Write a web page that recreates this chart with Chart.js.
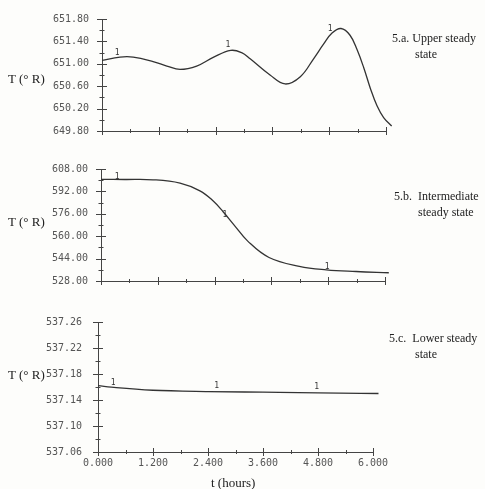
<!DOCTYPE html>
<html lang="en">
<head>
<meta charset="UTF-8">
<title>Steady state temperature response</title>
<script src="https://cdn.jsdelivr.net/npm/chart.js@4.4.2/dist/chart.umd.min.js"></script>
<style>
    body { margin: 0; background: #fdfdfb; }
    #wrap { position: relative; width: 485px; height: 489px; overflow: hidden;
            font-family: "Liberation Serif", "DejaVu Serif", serif; color: #222; }
    canvas { position: absolute; left: 0; }
    .note { position: absolute; font-size: 12px; line-height: 14px; white-space: nowrap; }
    .tlab { position: absolute; left: 8px; font-size: 13px; line-height: 16px; white-space: nowrap; }
</style>
</head>
<body>
<div id="wrap">
    <canvas id="chartA" width="395" height="150" style="top:0px"></canvas>
    <canvas id="chartB" width="395" height="150" style="top:150px"></canvas>
    <canvas id="chartC" width="395" height="189" style="top:300px"></canvas>

    <div class="tlab" style="top:71px">T (° R)</div>
    <div class="tlab" style="top:214px">T (° R)</div>
    <div class="tlab" style="top:367px">T (° R)</div>

    <div class="note" style="left:392px; top:31px">5.a. Upper steady</div>
    <div class="note" style="left:415px; top:47px">state</div>
    <div class="note" style="left:394px; top:189px">5.b.&nbsp; Intermediate</div>
    <div class="note" style="left:418px; top:205px">steady state</div>
    <div class="note" style="left:389px; top:331px">5.c.&nbsp; Lower steady</div>
    <div class="note" style="left:415px; top:347px">state</div>

    <div class="note" style="left:211px; top:476px; font-size:13px">t (hours)</div>
</div>
<script>
    // 5.a upper steady state
    const timeA = [0, 0.38, 0.66, 1.08, 1.37, 1.65, 2.0, 2.36, 2.72, 2.95, 3.13, 3.55, 3.87, 4.19, 4.47, 4.68, 4.86, 5.05, 5.24, 5.39, 5.53, 5.67, 5.81, 5.95, 6.12];
    const tempA = [651.06, 651.12, 651.12, 651.04, 650.96, 650.90, 650.96, 651.12, 651.24, 651.20, 651.09, 650.80, 650.64, 650.77, 651.09, 651.35, 651.55, 651.63, 651.51, 651.25, 650.93, 650.56, 650.25, 650.04, 649.89];
    const markTA = [0.32, 2.66, 4.82];
    const markYA = [651.20, 651.33, 651.62];

    // 5.b intermediate steady state
    const timeB = [0, 0.5, 1.1, 1.67, 2.09, 2.36, 2.58, 2.8, 3.1, 3.55, 4.19, 4.76, 5.39, 6.08];
    const tempB = [600.6, 600.5, 600.3, 597.9, 592.4, 585.5, 577.5, 568.5, 556.5, 544.8, 538.5, 536.0, 534.8, 533.9];
    const markTB = [0.34, 2.62, 4.78];
    const markYB = [602.3, 575.2, 538.1];

    // 5.c lower steady state
    const timeC = [0, 0.4, 1.2, 2.4, 3.6, 4.8, 6.12];
    const tempC = [537.162, 537.159, 537.155, 537.153, 537.152, 537.151, 537.150];
    const markTC = [0.33, 2.59, 4.77];
    const markYC = [537.167, 537.162, 537.160];

    const tickFont = { family: 'DejaVu Sans Mono', size: 10 };

    // ticks crossing the axes plus the "1" curve labels
    const crossTicks = {
        id: 'crossTicks',
        afterDraw(chart, args, o) {
            const ctx = chart.ctx, xs = chart.scales.x, ys = chart.scales.y;
            const area = chart.chartArea;
            ctx.save();
            ctx.strokeStyle = '#444';
            ctx.lineWidth = 1;
            ctx.beginPath();
            let n = Math.round((xs.max - xs.min) / o.xMinor);
            for (let i = 0; i <= n; i++) {
                let px = Math.round(xs.getPixelForValue(xs.min + i * o.xMinor)) + 0.5;
                let len = i % 2 === 0 ? 4 : 2;
                ctx.moveTo(px, area.bottom - len);
                ctx.lineTo(px, area.bottom + len);
            }
            n = Math.round((ys.max - ys.min) / o.yMinor);
            for (let i = 0; i <= n; i++) {
                let py = Math.round(ys.getPixelForValue(ys.min + i * o.yMinor)) + 0.5;
                let len = i % 2 === 0 ? 5 : 2.5;
                ctx.moveTo(area.left - len, py);
                ctx.lineTo(area.left + len, py);
            }
            ctx.stroke();
            ctx.fillStyle = '#333';
            ctx.font = '8px DejaVu Sans Mono';
            ctx.textAlign = 'center';
            ctx.textBaseline = 'middle';
            o.markT.forEach((t, i) => {
                ctx.fillText('1', xs.getPixelForValue(t), ys.getPixelForValue(o.markY[i]));
            });
            ctx.restore();
        }
    };

    function makePanel(id, times, temps, cfg) {
        return new Chart(document.getElementById(id), {
            type: 'line',
            data: {
                datasets: [{
                    data: times.map((t, i) => ({ x: t, y: temps[i] })),
                    borderColor: '#333',
                    borderWidth: 1.3,
                    pointRadius: 0,
                    tension: 0.4,
                    cubicInterpolationMode: cfg.mode,
                    clip: false
                }]
            },
            options: {
                responsive: false,
                animation: false,
                layout: { padding: { left: 0, top: cfg.top, right: cfg.right, bottom: 0 } },
                plugins: {
                    legend: { display: false },
                    tooltip: { enabled: false },
                    crossTicks: { xMinor: 0.6, yMinor: cfg.yStep / 2, markT: cfg.markT, markY: cfg.markY }
                },
                scales: {
                    x: {
                        type: 'linear', min: 0, max: 6,
                        afterFit: s => { s.height = cfg.xHeight; },
                        grid: { display: false, drawTicks: false },
                        border: { display: true, color: '#444', width: 1 },
                        ticks: {
                            display: cfg.xLabels, stepSize: 1.2, autoSkip: false, maxRotation: 0,
                            padding: 5, color: '#555', font: tickFont,
                            callback: v => v.toFixed(3)
                        }
                    },
                    y: {
                        type: 'linear', min: cfg.yMin, max: cfg.yMax,
                        afterFit: s => { s.width = cfg.yWidth; },
                        grid: { display: false, drawTicks: false },
                        border: { display: true, color: '#444', width: 1 },
                        ticks: {
                            stepSize: cfg.yStep, padding: cfg.yPad, color: '#555', font: tickFont,
                            callback: v => v.toFixed(2)
                        }
                    }
                }
            },
            plugins: [crossTicks]
        });
    }

    makePanel('chartA', timeA, tempA, {
        top: 14, right: 9, xHeight: 8, yWidth: 102, yPad: 13, xLabels: false, mode: 'default',
        yMin: 649.8, yMax: 651.8, yStep: 0.4, markT: markTA, markY: markYA
    });
    makePanel('chartB', timeB, tempB, {
        top: 13, right: 10, xHeight: 10, yWidth: 101, yPad: 13, xLabels: false, mode: 'default',
        yMin: 528, yMax: 608, yStep: 16, markT: markTB, markY: markYB
    });
    makePanel('chartC', timeC, tempC, {
        top: 15, right: 22, xHeight: 37, yWidth: 98, yPad: 16, xLabels: true, mode: 'monotone',
        yMin: 537.06, yMax: 537.26, yStep: 0.04, markT: markTC, markY: markYC
    });
</script>
</body>
</html>
